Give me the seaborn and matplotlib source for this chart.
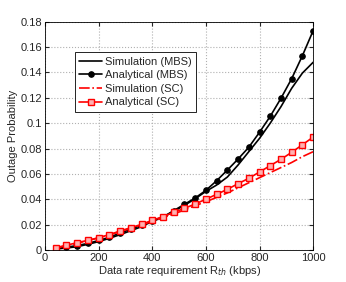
import numpy as np
import pandas as pd
import matplotlib
matplotlib.use("Agg")
import matplotlib.pyplot as plt
import seaborn as sns

rate = [40, 80, 120, 160, 200, 240, 280, 320, 360, 400, 440, 480, 520,
        560, 600, 640, 680, 720, 760, 800, 840, 880, 920, 960, 1000]

sim_mbs = [0.0008, 0.0016, 0.0026, 0.0045, 0.0066, 0.0092, 0.0121, 0.0152,
           0.0184, 0.0226, 0.0257, 0.0305, 0.0352, 0.0404, 0.0462, 0.0512,
           0.0575, 0.0670, 0.0775, 0.0880, 0.1000, 0.1130, 0.1275, 0.1395, 0.1480]
ana_mbs = [0.0012, 0.0022, 0.0035, 0.0052, 0.0075, 0.0100, 0.0133, 0.0164,
           0.0196, 0.0230, 0.0260, 0.0310, 0.0360, 0.0410, 0.0470, 0.0546,
           0.0630, 0.0717, 0.0810, 0.0928, 0.1054, 0.1196, 0.1351, 0.1532, 0.1729]
sim_sc = [0.0016, 0.0034, 0.0053, 0.0074, 0.0095, 0.0118, 0.0145, 0.0170,
          0.0197, 0.0226, 0.0255, 0.0284, 0.0315, 0.0350, 0.0380, 0.0415,
          0.0450, 0.0490, 0.0530, 0.0570, 0.0610, 0.0650, 0.0690, 0.0736, 0.0775]
ana_sc = [0.0018, 0.0037, 0.0058, 0.0076, 0.0097, 0.0121, 0.0150, 0.0176,
          0.0202, 0.0234, 0.0263, 0.0297, 0.0328, 0.0363, 0.0400, 0.0439,
          0.0478, 0.0523, 0.0565, 0.0615, 0.0665, 0.0715, 0.0770, 0.0830, 0.0890]

sns.set_style("ticks")
plt.rcParams['font.family'] = ['Liberation Sans', 'DejaVu Sans']

fig = plt.figure(figsize=(3.46, 2.82), dpi=100)
ax = fig.add_axes([0.130, 0.1135, 0.775, 0.8095])

df = pd.DataFrame({"rate": rate, "sim_mbs": sim_mbs, "ana_mbs": ana_mbs,
                   "sim_sc": sim_sc, "ana_sc": ana_sc})

sns.lineplot(data=df, x="rate", y="sim_mbs", ax=ax, color="black", lw=1.2,
             label="Simulation (MBS)")
sns.lineplot(data=df, x="rate", y="ana_mbs", ax=ax, color="black", lw=1.2,
             marker="o", markersize=4, markeredgecolor="black",
             label="Analytical (MBS)")
sns.lineplot(data=df, x="rate", y="sim_sc", ax=ax, color="red", lw=1.2,
             linestyle="-.", label="Simulation (SC)")
sns.lineplot(data=df, x="rate", y="ana_sc", ax=ax, color="red", lw=1.2,
             marker="s", markersize=4.5, markerfacecolor="#ffb0b0",
             markeredgecolor="red", markeredgewidth=1.0, label="Analytical (SC)")

ax.set_xlim(0, 1000)
ax.set_ylim(0, 0.18)
ax.set_xticks([0, 200, 400, 600, 800, 1000])
ax.set_yticks(np.arange(0, 0.181, 0.02))
ax.set_yticklabels(["0", "0.02", "0.04", "0.06", "0.08", "0.1", "0.12",
                    "0.14", "0.16", "0.18"])
ax.grid(True, linestyle=":", color="#b0b0b0", lw=0.8)
ax.tick_params(direction="in", labelsize=8, length=3, top=True, right=True,
               pad=2)
for s in ax.spines.values():
    s.set_color("black")
    s.set_linewidth(0.6)
ax.set_xlabel("Data rate requirement R$_{th}$ (kbps)", fontsize=8, labelpad=1)
ax.set_ylabel("Outage Probability", fontsize=8, labelpad=2)

leg = ax.legend(loc="upper left", bbox_to_anchor=(0.112, 0.866), fontsize=8,
                frameon=True, fancybox=False, handlelength=2.0,
                handletextpad=0.3, borderpad=0.4, labelspacing=0.32,
                borderaxespad=0)
leg.get_frame().set_edgecolor("black")
leg.get_frame().set_linewidth(0.6)
leg.get_frame().set_alpha(1)

fig.savefig("out.png", dpi=100)
